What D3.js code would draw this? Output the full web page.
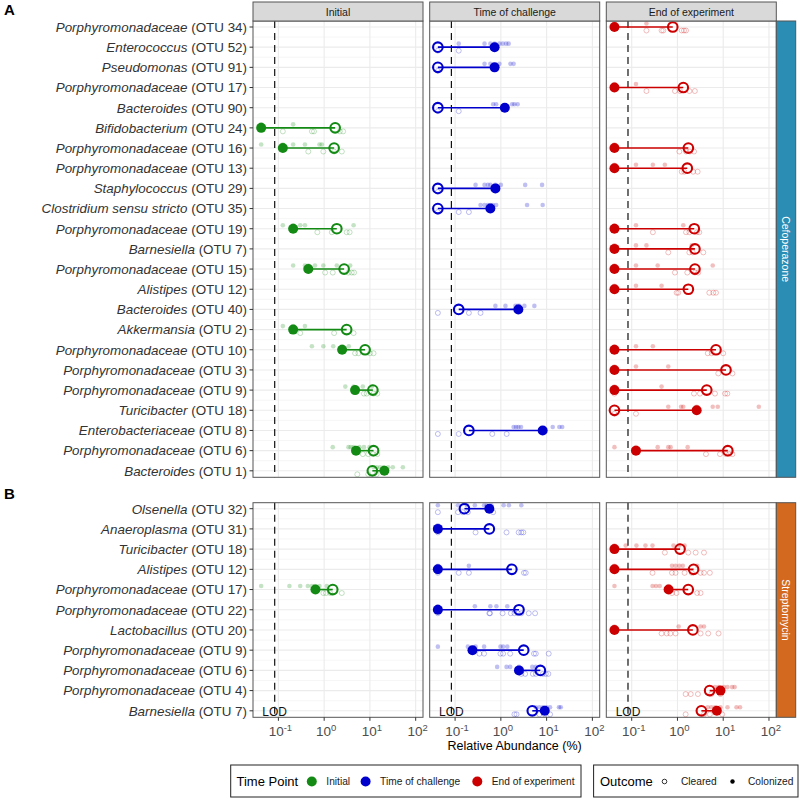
<!DOCTYPE html>
<html>
<head>
<meta charset="utf-8">
<script src="https://cdn.jsdelivr.net/npm/d3@7"></script>
<style>
  body { margin: 0; background: #fff; }
  svg { font-family: "Liberation Sans", Arial, sans-serif; }
</style>
</head>
<body>
<svg id="chart"></svg>
<script>
// row labels (top to bottom)
const rowsA = [
  "Porphyromonadaceae (OTU 34)", "Enterococcus (OTU 52)", "Pseudomonas (OTU 91)",
  "Porphyromonadaceae (OTU 17)", "Bacteroides (OTU 90)", "Bifidobacterium (OTU 24)",
  "Porphyromonadaceae (OTU 16)", "Porphyromonadaceae (OTU 13)", "Staphylococcus (OTU 29)",
  "Clostridium sensu stricto (OTU 35)", "Porphyromonadaceae (OTU 19)", "Barnesiella (OTU 7)",
  "Porphyromonadaceae (OTU 15)", "Alistipes (OTU 12)", "Bacteroides (OTU 40)",
  "Akkermansia (OTU 2)", "Porphyromonadaceae (OTU 10)", "Porphyromonadaceae (OTU 3)",
  "Porphyromonadaceae (OTU 9)", "Turicibacter (OTU 18)", "Enterobacteriaceae (OTU 8)",
  "Porphyromonadaceae (OTU 6)", "Bacteroides (OTU 1)"
];
const rowsB = [
  "Olsenella (OTU 32)", "Anaeroplasma (OTU 31)", "Turicibacter (OTU 18)", "Alistipes (OTU 12)",
  "Porphyromonadaceae (OTU 17)", "Porphyromonadaceae (OTU 22)", "Lactobacillus (OTU 20)",
  "Porphyromonadaceae (OTU 9)", "Porphyromonadaceae (OTU 6)", "Porphyromonadaceae (OTU 4)",
  "Barnesiella (OTU 7)"
];

const timePoints = ["Initial", "Time of challenge", "End of experiment"];
const treatments = ["Cefoperazone", "Streptomycin"];
const LOD = 0.083;

// [row, cleared median, colonized median, colonized mice, cleared mice]  (relative abundance %)
const initialA = [
  ["Bifidobacterium (OTU 24)", 1.74, 0.042, [0.042, 0.21], [0.125, 0.54, 0.6, 2.2, 2.6]],
  ["Porphyromonadaceae (OTU 16)", 1.65, 0.125, [0.042, 0.125, 0.21, 0.38, 0.79, 0.89], [0.45, 0.96, 1.65, 2.43]],
  ["Porphyromonadaceae (OTU 19)", 1.89, 0.21, [0.125, 0.21, 0.3, 0.38, 4.4], [0.71, 1.47, 3.1, 3.6]],
  ["Porphyromonadaceae (OTU 15)", 2.73, 0.45, [0.21, 0.38, 0.45, 0.63, 0.96, 1.89, 3.7], [1.05, 1.54, 3.4, 4.0, 4.5]],
  ["Akkermansia (OTU 2)", 3.1, 0.21, [0.125, 0.21, 0.38], [0.3, 1.65, 4.4]],
  ["Porphyromonadaceae (OTU 10)", 7.85, 2.47, [0.54, 0.96, 1.58, 2.47, 3.45], [4.74, 5.6, 10, 12]],
  ["Porphyromonadaceae (OTU 9)", 11.6, 4.74, [2.9, 4.4, 7.0, 11], [7.4, 8.5, 12, 14.5]],
  ["Porphyromonadaceae (OTU 6)", 12, 4.97, [1.54, 3.4, 3.8, 4.4, 5.9, 7.4, 9.8], [7.0, 9.2, 11.6, 14.5]],
  ["Bacteroides (OTU 1)", 11.3, 20.7, [12, 14, 16.6, 19.8, 25, 31.6, 52.5], [5.3, 9.2, 14]]
];
const challengeA = [
  ["Enterococcus (OTU 52)", 0.042, 0.73, [0.12, 0.44, 0.59, 0.73, 0.93, 1.1, 1.3, 1.48], [0.042, 0.12]],
  ["Pseudomonas (OTU 91)", 0.042, 0.73, [0.44, 0.59, 0.93, 1.62, 1.9], [0.042]],
  ["Bacteroides (OTU 90)", 0.042, 1.22, [0.68, 0.79, 1.76, 1.98, 2.33], [0.042, 0.12]],
  ["Staphylococcus (OTU 29)", 0.042, 0.76, [0.28, 0.44, 0.52, 0.59, 0.76, 1.0, 3.4, 7.95], [0.042]],
  ["Clostridium sensu stricto (OTU 35)", 0.042, 0.59, [0.36, 0.44, 0.52, 0.59, 0.67, 0.79, 3.74, 8.2], [0.042, 0.12, 0.2]],
  ["Bacteroides (OTU 40)", 0.12, 2.41, [0.76, 1.26, 2.08, 2.35, 2.54, 3.27, 5.4], [0.042, 0.2, 0.36]],
  ["Enterobacteriaceae (OTU 8)", 0.2, 8.2, [1.9, 2.15, 2.41, 2.76, 13.6, 19, 21.9], [0.042, 0.12, 0.65, 1.34]]
];
const endA = [
  ["Porphyromonadaceae (OTU 34)", 0.79, 0.042, [0.042, 0.21], [0.21, 0.45, 0.49, 1.24, 1.39, 1.54]],
  ["Porphyromonadaceae (OTU 17)", 1.34, 0.042, [0.042, 0.124], [0.21, 0.88, 1.14, 1.82, 2.4]],
  ["Porphyromonadaceae (OTU 16)", 1.73, 0.042, [0.042], [1.1, 1.54, 1.87, 2.3]],
  ["Porphyromonadaceae (OTU 13)", 1.64, 0.042, [0.042, 0.124, 0.29, 0.53], [1.24, 1.41, 2.2, 2.76]],
  ["Porphyromonadaceae (OTU 19)", 2.33, 0.042, [0.042, 0.124, 1.34], [0.29, 1.54, 1.82, 2.66, 3.0]],
  ["Barnesiella (OTU 7)", 2.41, 0.042, [0.042, 0.124, 0.21, 2.05], [0.63, 1.82, 2.15, 3.67]],
  ["Porphyromonadaceae (OTU 15)", 2.41, 0.042, [0.042, 0.124, 0.37, 5.9], [0.88, 1.64, 2.41, 2.85]],
  ["Alistipes (OTU 12)", 1.73, 0.042, [0.042, 0.124, 0.45], [0.96, 1.04, 4.97, 6.07, 6.95]],
  ["Porphyromonadaceae (OTU 10)", 6.95, 0.042, [0.042, 0.124, 0.29], [4.6, 5.6, 10]],
  ["Porphyromonadaceae (OTU 3)", 11.5, 0.042, [0.042, 0.124, 0.63], [7.8, 15.9]],
  ["Porphyromonadaceae (OTU 9)", 4.37, 0.042, [0.042, 0.45], [0.042, 2.3, 3.1, 6.6, 11, 12.3]],
  ["Turicibacter (OTU 18)", 0.042, 2.63, [0.63, 1.2, 1.34, 2.63, 5.9, 7.6, 60], [0.042, 0.124]],
  ["Porphyromonadaceae (OTU 6)", 12.6, 0.124, [0.042, 0.124, 0.37, 0.63, 0.71, 1.67], [4.2, 8.5, 11.5, 13.5, 15.9]]
];
const initialB = [
  ["Porphyromonadaceae (OTU 17)", 1.54, 0.645, [0.042, 0.174, 0.3, 0.44, 0.54, 0.63, 0.79, 1.14], [0.96, 1.1, 1.35, 2.43]]
];
const challengeB = [
  ["Olsenella (OTU 32)", 0.16, 0.56, [0.042, 0.116, 0.18, 0.27, 0.43, 0.49, 0.62, 1.15, 1.5, 2.8], [0.042, 0.116, 0.146, 0.19, 0.68]],
  ["Anaeroplasma (OTU 31)", 0.56, 0.042, [0.042], [0.042, 0.28, 1.33, 2.45, 2.8, 3.1]],
  ["Alistipes (OTU 12)", 1.74, 0.042, [0.042, 0.2], [0.042, 0.12, 0.2, 3.2, 3.5]],
  ["Porphyromonadaceae (OTU 22)", 2.49, 0.042, [0.042, 0.27, 0.59, 0.8, 1.38], [0.042, 0.56, 0.58, 1.09, 1.65, 1.98, 2.37, 2.8, 4.07, 5.6]],
  ["Porphyromonadaceae (OTU 9)", 3.16, 0.24, [0.042, 0.19, 0.28, 0.43, 0.98, 1.12, 1.38], [0.34, 0.43, 0.98, 1.12, 1.6, 5.3, 5.8, 11.1]],
  ["Porphyromonadaceae (OTU 6)", 7.3, 2.49, [0.83, 1.33, 1.6, 2.49, 4.86, 5.8], [2.8, 3.4, 5.0, 5.8, 8.3, 9.6, 10.9]],
  ["Barnesiella (OTU 7)", 4.86, 9.1, [5.8, 6.95, 8.3, 9.96, 11.9, 18.6, 20.4], [1.98, 2.2, 6.95, 9.1, 11.9]]
];
const endB = [
  ["Turicibacter (OTU 18)", 1.14, 0.042, [0.042, 0.074, 0.127, 0.2, 0.285, 0.82, 1.1, 1.43], [0.53, 1.72, 2.5, 3.8]],
  ["Alistipes (OTU 12)", 2.25, 0.042, [0.042, 0.76, 0.91, 1.1, 1.31, 2.7], [0.285, 0.76, 0.91, 1.43, 2.06, 3.2, 3.8, 5.1]],
  ["Porphyromonadaceae (OTU 17)", 1.72, 0.64, [0.042, 0.285, 0.34, 0.41, 0.64], [0.76, 0.95, 2.7, 3.2]],
  ["Lactobacillus (OTU 20)", 2.17, 0.042, [0.042, 1.06, 3.2, 3.8], [0.45, 0.58, 0.7, 0.91, 3.2, 4.7, 7.9]],
  ["Porphyromonadaceae (OTU 4)", 5.05, 8.7, [6.6, 7.9, 10.4, 12.4, 15.6, 17.8], [1.51, 1.95, 2.8, 5.5, 8.7]],
  ["Barnesiella (OTU 7)", 3.33, 7.25, [4.6, 5.5, 6.6, 8.7, 12.4, 19.5, 23.3], [1.51, 3.8, 5.1, 9.5]]
];

const width = 800, height = 799;
const colors = ["#138a13", "#0000cc", "#cc0000"];
const stripColors = ["#2b8cb4", "#d2691e"];

const svg = d3.select("#chart").attr("width", width).attr("height", height);

const panelLeft = [253, 429.7, 606.3];
const panelW = 170;
const xs = panelLeft.map(l => d3.scaleLog()
  .domain([Math.pow(10, -1.555), Math.pow(10, 2.16)])
  .range([l, l + panelW]));
const ticks = [0.1, 1, 10, 100];

const sections = [
  { rows: rowsA, top: 21, bottom: 477.3, panels: [initialA, challengeA, endA], tag: "A" },
  { rows: rowsB, top: 502.7, bottom: 717.3, panels: [initialB, challengeB, endB], tag: "B" }
];

sections.forEach((s, si) => {
  const y = d3.scalePoint().domain(s.rows).range([s.top + 6, s.bottom - 6.5]);
  const h = s.bottom - s.top;

  s.panels.forEach((data, pi) => {
    const x = xs[pi];
    const g = svg.append("g");
    const l = panelLeft[pi];

    g.append("rect").attr("x", l).attr("y", s.top).attr("width", panelW).attr("height", h).attr("fill", "#fff");

    // minor horizontal grid between rows
    const step = y.step();
    g.selectAll(".minor").data(s.rows.slice(1)).enter().append("line")
      .attr("x1", l).attr("x2", l + panelW)
      .attr("y1", d => y(d) - step / 2).attr("y2", d => y(d) - step / 2)
      .attr("stroke", "#f0f0f0").attr("stroke-width", 0.6);
    g.selectAll(".major").data(s.rows).enter().append("line")
      .attr("x1", l).attr("x2", l + panelW)
      .attr("y1", d => y(d)).attr("y2", d => y(d))
      .attr("stroke", "#ebebeb").attr("stroke-width", 1.1);
    g.selectAll(".vgrid").data(ticks).enter().append("line")
      .attr("x1", d => x(d)).attr("x2", d => x(d))
      .attr("y1", s.top).attr("y2", s.bottom)
      .attr("stroke", "#ebebeb").attr("stroke-width", 1.1);

    // limit of detection
    g.append("line")
      .attr("x1", x(LOD)).attr("x2", x(LOD))
      .attr("y1", s.top).attr("y2", s.bottom)
      .attr("stroke", "#111").attr("stroke-width", 1.2)
      .attr("stroke-dasharray", "7,5");

    const col = colors[pi];

    // individual mice
    data.forEach(d => {
      g.selectAll(null).data(d[3]).enter().append("circle")
        .attr("cx", v => x(v)).attr("cy", y(d[0]) - 3.5).attr("r", 2.3)
        .attr("fill", col).attr("fill-opacity", 0.25);
      g.selectAll(null).data(d[4]).enter().append("circle")
        .attr("cx", v => x(v)).attr("cy", y(d[0]) + 3.5).attr("r", 2.5)
        .attr("fill", "none").attr("stroke", col).attr("stroke-opacity", 0.32).attr("stroke-width", 0.8);
    });

    // medians
    g.selectAll(".seg").data(data).enter().append("line")
      .attr("x1", d => x(d[1])).attr("x2", d => x(d[2]))
      .attr("y1", d => y(d[0])).attr("y2", d => y(d[0]))
      .attr("stroke", col).attr("stroke-width", 1.6);
    g.selectAll(".col").data(data).enter().append("circle")
      .attr("cx", d => x(d[2])).attr("cy", d => y(d[0])).attr("r", 5)
      .attr("fill", col);
    g.selectAll(".clr").data(data).enter().append("circle")
      .attr("cx", d => x(d[1])).attr("cy", d => y(d[0])).attr("r", 4.8)
      .attr("fill", "none").attr("stroke", col).attr("stroke-width", 2.1);

    g.append("rect").attr("x", l).attr("y", s.top).attr("width", panelW).attr("height", h)
      .attr("fill", "none").attr("stroke", "#555").attr("stroke-width", 1);

    if (si === 0) {
      svg.append("rect").attr("x", l).attr("y", 2).attr("width", panelW).attr("height", 19)
        .attr("fill", "#d9d9d9").attr("stroke", "#555").attr("stroke-width", 1);
      svg.append("text").attr("x", l + panelW / 2).attr("y", 15.5)
        .attr("text-anchor", "middle").attr("font-size", 10.5).attr("fill", "#1a1a1a")
        .text(timePoints[pi]);
    } else {
      const ax = svg.append("g");
      ax.selectAll("line").data(ticks).enter().append("line")
        .attr("x1", d => x(d)).attr("x2", d => x(d))
        .attr("y1", s.bottom).attr("y2", s.bottom + 3.5)
        .attr("stroke", "#333").attr("stroke-width", 1);
      const t = ax.selectAll("text").data(ticks).enter().append("text")
        .attr("x", d => x(d) + 2).attr("y", 736)
        .attr("text-anchor", "middle").attr("font-size", 13.5).attr("fill", "#4d4d4d");
      t.append("tspan").text("10");
      t.append("tspan").attr("dy", -5.5).attr("font-size", 9.5).text(d => Math.round(Math.log10(d)));
      svg.append("text").attr("x", x(LOD)).attr("y", 715.5)
        .attr("text-anchor", "middle").attr("font-size", 12).attr("fill", "#111")
        .text("LOD");
    }
  });

  // y axis
  const ya = svg.append("g");
  ya.selectAll("line").data(s.rows).enter().append("line")
    .attr("x1", panelLeft[0] - 3.5).attr("x2", panelLeft[0])
    .attr("y1", d => y(d)).attr("y2", d => y(d))
    .attr("stroke", "#333").attr("stroke-width", 1);
  const lab = ya.selectAll("text").data(s.rows).enter().append("text")
    .attr("x", panelLeft[0] - 6).attr("y", d => y(d)).attr("dy", "0.36em")
    .attr("text-anchor", "end").attr("font-size", 13.4).attr("fill", "#333");
  lab.append("tspan").attr("font-style", "italic").text(d => d.replace(/ \(OTU \d+\)$/, ""));
  lab.append("tspan").text(d => " " + d.match(/\(OTU \d+\)$/)[0]);

  // treatment strip
  const sx = panelLeft[2] + panelW;
  svg.append("rect").attr("x", sx).attr("y", s.top).attr("width", 19.4).attr("height", h)
    .attr("fill", stripColors[si]).attr("stroke", "#555").attr("stroke-width", 1);
  svg.append("text")
    .attr("transform", `translate(${sx + 6},${(s.top + s.bottom) / 2}) rotate(90)`)
    .attr("text-anchor", "middle").attr("font-size", 10.5).attr("fill", "#fff")
    .text(treatments[si]);

  svg.append("text").attr("x", 4).attr("y", si === 0 ? 15 : 499)
    .attr("font-size", 15).attr("font-weight", "bold").text(s.tag);
});

// axis title
svg.append("text").attr("x", (panelLeft[0] + panelLeft[2] + panelW) / 2).attr("y", 750)
  .attr("text-anchor", "middle").attr("font-size", 12.5).text("Relative Abundance (%)");

// legends
const lg = svg.append("g");
lg.append("rect").attr("x", 230.7).attr("y", 765).attr("width", 350.3).attr("height", 32)
  .attr("fill", "#fff").attr("stroke", "#222").attr("stroke-width", 1);
lg.append("text").attr("x", 236.5).attr("y", 786).attr("font-size", 13).text("Time Point");
const keyX = [311.8, 365.6, 477.3];
timePoints.forEach((tp, i) => {
  lg.append("circle").attr("cx", keyX[i]).attr("cy", 781.5).attr("r", 5).attr("fill", colors[i]);
  lg.append("text").attr("x", keyX[i] + 14.5).attr("y", 785).attr("font-size", 10.2).attr("fill", "#1a1a1a").text(tp);
});

lg.append("rect").attr("x", 593.6).attr("y", 765).attr("width", 204.4).attr("height", 32)
  .attr("fill", "#fff").attr("stroke", "#222").attr("stroke-width", 1);
lg.append("text").attr("x", 600).attr("y", 786).attr("font-size", 13).text("Outcome");
lg.append("circle").attr("cx", 664.5).attr("cy", 781.5).attr("r", 2.3)
  .attr("fill", "none").attr("stroke", "#000").attr("stroke-width", 0.8);
lg.append("text").attr("x", 681).attr("y", 785).attr("font-size", 10.2).attr("fill", "#1a1a1a").text("Cleared");
lg.append("circle").attr("cx", 732.5).attr("cy", 781.5).attr("r", 2.2).attr("fill", "#000");
lg.append("text").attr("x", 748).attr("y", 785).attr("font-size", 10.2).attr("fill", "#1a1a1a").text("Colonized");
</script>
</body>
</html>
